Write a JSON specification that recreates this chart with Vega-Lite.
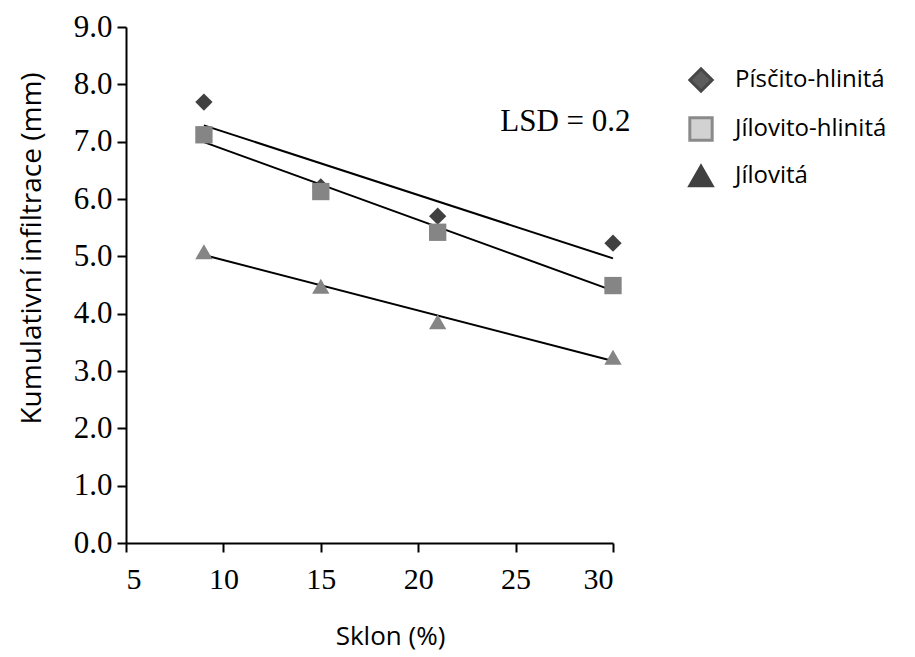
{
  "$schema": "https://vega.github.io/schema/vega-lite/v6.json",
  "width": 487,
  "height": 516,
  "autosize": {"type": "none"},
  "padding": {"left": 126, "top": 27, "right": 302, "bottom": 114},
  "background": "white",
  "config": {"view": {"stroke": null}},
  "data": {"values": [
    {"sklon": 9, "inf": 7.69, "typ": "Písčito-hlinitá"},
    {"sklon": 15, "inf": 6.21, "typ": "Písčito-hlinitá"},
    {"sklon": 21, "inf": 5.70, "typ": "Písčito-hlinitá"},
    {"sklon": 30, "inf": 5.23, "typ": "Písčito-hlinitá"},
    {"sklon": 9, "inf": 7.12, "typ": "Jílovito-hlinitá"},
    {"sklon": 15, "inf": 6.13, "typ": "Jílovito-hlinitá"},
    {"sklon": 21, "inf": 5.42, "typ": "Jílovito-hlinitá"},
    {"sklon": 30, "inf": 4.49, "typ": "Jílovito-hlinitá"},
    {"sklon": 9, "inf": 5.08, "typ": "Jílovitá"},
    {"sklon": 15, "inf": 4.48, "typ": "Jílovitá"},
    {"sklon": 21, "inf": 3.86, "typ": "Jílovitá"},
    {"sklon": 30, "inf": 3.24, "typ": "Jílovitá"}
  ]},
  "resolve": {"scale": {"color": "independent", "shape": "independent", "stroke": "independent"}},
  "layer": [
    {
      "transform": [{"regression": "inf", "on": "sklon", "groupby": ["typ"]}],
      "mark": {"type": "line", "color": "black", "strokeWidth": 2},
      "encoding": {
        "x": {"field": "sklon", "type": "quantitative"},
        "y": {"field": "inf", "type": "quantitative"},
        "detail": {"field": "typ"}
      }
    },
    {
      "mark": {"type": "point", "filled": true, "opacity": 1, "size": 300},
      "encoding": {
        "x": {
          "field": "sklon", "type": "quantitative",
          "scale": {"domain": [5, 30], "nice": false, "zero": false},
          "axis": {
            "values": [5, 10, 15, 20, 25, 30],
            "title": "Sklon (%)",
            "grid": false,
            "domainColor": "black", "domainWidth": 2,
            "tickColor": "black", "tickWidth": 2, "tickSize": 9,
            "labelFont": "Liberation Serif", "labelFontSize": 30, "labelColor": "black",
            "labelPadding": 12,
            "titleFont": "Open Sans", "titleFontSize": 26, "titleFontWeight": "normal", "titleColor": "black",
            "titleX": 264, "titleAlign": "center", "titleY": 93, "titleBaseline": "middle"
          }
        },
        "y": {
          "field": "inf", "type": "quantitative",
          "scale": {"domain": [0, 9], "nice": false},
          "axis": {
            "values": [0, 1, 2, 3, 4, 5, 6, 7, 8, 9],
            "format": ".1f",
            "title": "Kumulativní infiltrace  (mm)",
            "grid": false,
            "domainColor": "black", "domainWidth": 2,
            "tickColor": "black", "tickWidth": 2, "tickSize": 9,
            "labelFont": "Liberation Serif", "labelFontSize": 31, "labelColor": "black",
            "labelPadding": 5,
            "titleFont": "Open Sans", "titleFontSize": 28, "titleFontWeight": "normal", "titleColor": "black",
            "titleX": -94, "titleY": 221, "titleAngle": -90, "titleBaseline": "middle", "titleAlign": "center"
          }
        },
        "color": {
          "field": "typ", "type": "nominal",
          "scale": {"domain": ["Písčito-hlinitá", "Jílovito-hlinitá", "Jílovitá"], "range": ["#404040", "#858585", "#858585"]},
          "legend": null
        },
        "shape": {
          "field": "typ", "type": "nominal",
          "scale": {"domain": ["Písčito-hlinitá", "Jílovito-hlinitá", "Jílovitá"], "range": ["diamond", "square", "triangle-up"]},
          "legend": null
        }
      }
    },
    {
      "mark": {"type": "point", "filled": true, "opacity": 0, "strokeWidth": 3},
      "encoding": {
        "x": {"field": "sklon", "type": "quantitative"},
        "y": {"field": "inf", "type": "quantitative"},
        "color": {
          "field": "typ", "type": "nominal",
          "scale": {"domain": ["Písčito-hlinitá", "Jílovito-hlinitá", "Jílovitá"], "range": ["#5c5c5c", "#d2d2d2", "#404040"]},
          "legend": {
            "title": null, "orient": "none", "legendX": 562, "legendY": 40,
            "labelFont": "Open Sans", "labelFontSize": 24, "labelColor": "black",
            "labelOffset": 21, "rowPadding": 13, "symbolSize": 500, "symbolOpacity": 1, "symbolStrokeWidth": 3
          }
        },
        "stroke": {
          "field": "typ", "type": "nominal",
          "scale": {"domain": ["Písčito-hlinitá", "Jílovito-hlinitá", "Jílovitá"], "range": ["#474747", "#8a8a8a", "#404040"]},
          "legend": {
            "title": null, "orient": "none", "legendX": 562, "legendY": 40,
            "labelFont": "Open Sans", "labelFontSize": 24, "labelColor": "black",
            "labelOffset": 21, "rowPadding": 13, "symbolSize": 500, "symbolOpacity": 1, "symbolStrokeWidth": 3
          }
        },
        "shape": {
          "field": "typ", "type": "nominal",
          "scale": {"domain": ["Písčito-hlinitá", "Jílovito-hlinitá", "Jílovitá"], "range": ["diamond", "square", "triangle-up"]},
          "legend": {
            "title": null, "orient": "none", "legendX": 562, "legendY": 40,
            "labelFont": "Open Sans", "labelFontSize": 24, "labelColor": "black",
            "labelOffset": 21, "rowPadding": 13, "symbolSize": 500, "symbolOpacity": 1, "symbolStrokeWidth": 3
          }
        }
      }
    },
    {
      "data": {"values": [{"sklon": 30.9, "inf": 7.34, "t": "LSD = 0.2"}]},
      "mark": {"type": "text", "align": "right", "baseline": "middle", "font": "Liberation Serif", "fontSize": 31, "color": "black"},
      "encoding": {
        "x": {"field": "sklon", "type": "quantitative"},
        "y": {"field": "inf", "type": "quantitative"},
        "text": {"field": "t"}
      }
    }
  ]
}
